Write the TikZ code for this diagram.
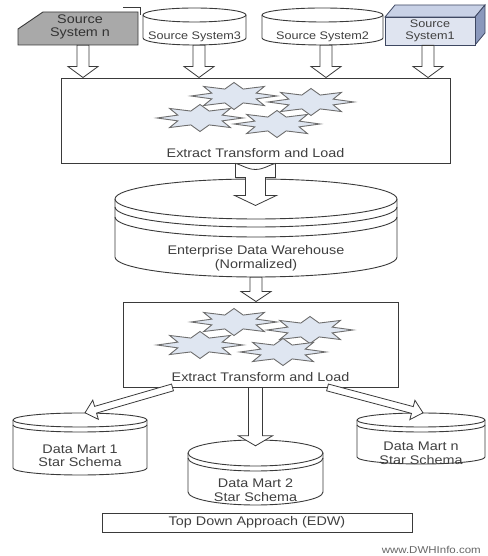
\documentclass[tikz,border=0pt]{standalone}
\usepackage{fontspec}
\newfontfamily\diafont[FakeStretch=1.15]{Liberation Sans}
\usetikzlibrary{calc}
\definecolor{linec}{HTML}{3A3A3A}
\definecolor{txtc}{HTML}{404040}
\definecolor{grayfill}{HTML}{A9A9A9}
\definecolor{sfront}{HTML}{DFE4F0}
\definecolor{stopc}{HTML}{C8D1E6}
\definecolor{sside}{HTML}{8A98BC}
\definecolor{sedge}{HTML}{3E4862}
\definecolor{starfill}{HTML}{DFE6F1}
\definecolor{staredge}{HTML}{6E6E6E}

\tikzset{
  shapeline/.style={draw=linec, line width=0.9pt},
  blockarr/.style={draw=linec, line width=0.8pt, fill=white, line join=miter},
  starst/.style={draw=staredge, line width=0.9pt, fill=starfill, line join=miter},
  txt/.style={text=txtc, align=center, inner sep=0pt, font=\diafont\fontsize{12.5}{13.5}\selectfont},
  smalltxt/.style={text=txtc, align=center, inner sep=0pt, font=\diafont\fontsize{11}{12}\selectfont},
  ghost/.style={draw=none, inner sep=0pt},
  etlbox/.style={draw=linec, line width=0.9pt, fill=white, inner sep=0pt}
}

\newcommand\blockarrow[5]{%
  \coordinate (bantmp) at ($(#2)!#5pt!(#1)$);
  \draw[blockarr] ($(#1)!#3pt!90:(#2)$) -- ($(bantmp)!#3pt!90:(#2)$) -- ($(bantmp)!#4pt!90:(#2)$) -- (#2) -- ($(bantmp)!#4pt!-90:(#2)$) -- ($(bantmp)!#3pt!-90:(#2)$) -- ($(#1)!#3pt!-90:(#2)$) -- cycle;}

\newcommand\cyl[6]{% name, L, R, Ytop, ry, Ybot
  \pgfmathsetmacro\cylrx{(#3-#2)/2}%
  \node[ghost, minimum width={(#3-#2)*1pt}, minimum height={(#4-#6)*1pt}] (#1) at ({(#2+#3)/2},{(#4+#6)/2}) {};
  \draw[shapeline, fill=white] (#2,#4-#5) -- (#2,#6+#5) arc[start angle=180, end angle=360, x radius=\cylrx, y radius=#5] -- (#3,#4-#5) arc[start angle=0, end angle=180, x radius=\cylrx, y radius=#5] -- cycle;
  \draw[shapeline] (#2,#4-#5) arc[start angle=180, end angle=360, x radius=\cylrx, y radius=#5];
}
\newcommand\cylextra[5]{% L, R, Ytop, ry, offset
  \pgfmathsetmacro\cylrx{(#2-#1)/2}%
  \draw[shapeline] (#1,#3-#4-#5) arc[start angle=180, end angle=360, x radius=\cylrx, y radius=#4];
}
\newcommand\etlstar[2]{%
  \draw[starst] plot[samples at={0,...,15}, variable=\k] ({#1+(mod(\k,2)==0 ? 43 : 24)*cos(\k*22.5)}, {#2+(mod(\k,2)==0 ? 13.5 : 7.5)*sin(\k*22.5)}) -- cycle;}

\begin{document}
\begin{tikzpicture}[x=1pt,y=1pt]
\useasboundingbox (0,0) rectangle (487,556);
\fill[white] (0,0) rectangle (487,556);

% ---------- Source systems ----------
% Source System n
\node[ghost, minimum width=120pt, minimum height=33pt] (srcn) at (78,527.5) {};
\draw[shapeline, fill=grayfill] (18,527) -- (43,544) -- (138,544) -- (138,511) -- (18,511) -- cycle;
\draw[draw=linec, line width=0.7pt] (123,549) -- (140,549) -- (140,541);
\node[txt, text=black!80] (srcnlbl) at (80,529) {Source\\System n};

% Source System3 / 2
\cyl{s3}{143}{246}{548}{7}{511}
\node[smalltxt] (s3lbl) at (194.5,519) {Source System3};
\cyl{s2}{262}{383}{548}{7}{511}
\node[smalltxt] (s2lbl) at (322.5,519) {Source System2};

% Source System1 (3D box)
\draw[draw=sedge, line width=0.8pt, fill=stopc] (385,539) -- (395,551) -- (485,551) -- (475,539) -- cycle;
\draw[draw=sedge, line width=0.8pt, fill=sside] (475,539) -- (485,551) -- (485,523) -- (475,511) -- cycle;
\node[draw=sedge, line width=0.8pt, fill=sfront, minimum width=90pt, minimum height=28pt, inner sep=0pt,
      smalltxt] (src1) at (430,525) {Source\\System1};

% ---------- ETL 1 ----------
\node[etlbox, minimum width=389pt, minimum height=85pt] (etl1) at (255.5,435.5) {};
\etlstar{234}{460}
\etlstar{311}{454}
\etlstar{200}{438}
\etlstar{277}{432}
\node[txt] (etl1lbl) at (255.5,403) {Extract Transform and Load};

% ---------- EDW ----------
\cyl{edw}{115}{397}{377}{20}{279}
\cylextra{115}{397}{377}{20}{8}
\cylextra{115}{397}{377}{20}{18}
\node[txt] (edwlbl) at (256,297.5) {Enterprise Data Warehouse\\(Normalized)};

% ---------- ETL 2 ----------
\node[etlbox, minimum width=275pt, minimum height=85pt] (etl2) at (260.5,211.5) {};
\etlstar{234}{234}
\etlstar{310}{226}
\etlstar{200}{211}
\etlstar{283}{204}
\node[txt] (etl2lbl) at (260.5,179) {Extract Transform and Load};

% ---------- Data marts ----------
\cyl{dm1}{13}{147}{143}{7}{81}
\cylextra{13}{147}{143}{7}{5}
\node[txt] (dm1lbl) at (80,100) {Data Mart 1\\Star Schema};

\cyl{dm2}{188}{323}{116}{13}{51}
\cylextra{188}{323}{116}{13}{5}
\node[txt] (dm2lbl) at (255.5,66) {Data Mart 2\\Star Schema};

\cyl{dmn}{357}{485}{143}{7}{92}
\cylextra{357}{485}{143}{7}{5}
\node[txt] (dmnlbl) at (421,102.5) {Data Mart n\\Star Schema};

% ---------- Footer ----------
\node[draw=linec, line width=0.9pt, minimum width=310pt, minimum height=19pt, txt] (tda) at (257,33.5) {Top Down Approach (EDW)};
\node[text=black!60, inner sep=0pt, anchor=east, font=\diafont\fontsize{10}{11}\selectfont] (www) at (481,6) {www.DWHInfo.com};

% ---------- Arrows: sources -> ETL1 ----------
\coordinate (an) at ($(srcn.south)+(5,0)$);
\coordinate (ane) at (an |- etl1.north);
\blockarrow{an}{ane}{6}{15}{11}
\coordinate (a3) at ($(s3.south)+(4.5,0)$);
\coordinate (a3e) at (a3 |- etl1.north);
\blockarrow{a3}{a3e}{6}{15}{11}
\coordinate (a2) at ($(s2.south)+(3.5,0)$);
\coordinate (a2e) at (a2 |- etl1.north);
\blockarrow{a2}{a2e}{6}{15}{11}
\coordinate (a1) at ($(src1.south)+(-2,0)$);
\coordinate (a1e) at (a1 |- etl1.north);
\blockarrow{a1}{a1e}{6}{15}{11}

% ---------- ETL1 -> EDW (notched arrow) ----------
\begin{scope}[shift={(etl1.south)}]
\draw[blockarr] (-20,0) to[out=-15,in=180] (0,-6) to[out=0,in=195] (20,0) -- (20,-14) -- (10,-14) -- (10,-32)
  -- (21,-32) -- (0,-42) -- (-21,-32) -- (-10,-32) -- (-10,-14) -- (-20,-14) -- cycle;
\end{scope}

% ---------- EDW -> ETL2 ----------
\coordinate (ae) at (edw.south);
\coordinate (aee) at (edw.south |- etl2.north);
\blockarrow{ae}{aee}{6}{15}{10}

% ---------- ETL2 -> data marts ----------
\coordinate (dl1) at ($(etl2.south)+(-88,0)$);
\coordinate (dl2) at ($(dm1.north)+(5,0)$);
\blockarrow{dl1}{dl2}{3.5}{10}{11}
\coordinate (dr1) at ($(etl2.south)+(67,0)$);
\coordinate (dr2) at ($(dmn.north)+(2,0)$);
\blockarrow{dr1}{dr2}{3.5}{10}{11}
\coordinate (dm1s) at (dm2.north |- etl2.south);
\coordinate (dm1e) at ($(dm2.north)+(0,-6)$);
\blockarrow{dm1s}{dm1e}{7}{17}{10}
\end{tikzpicture}
\end{document}
